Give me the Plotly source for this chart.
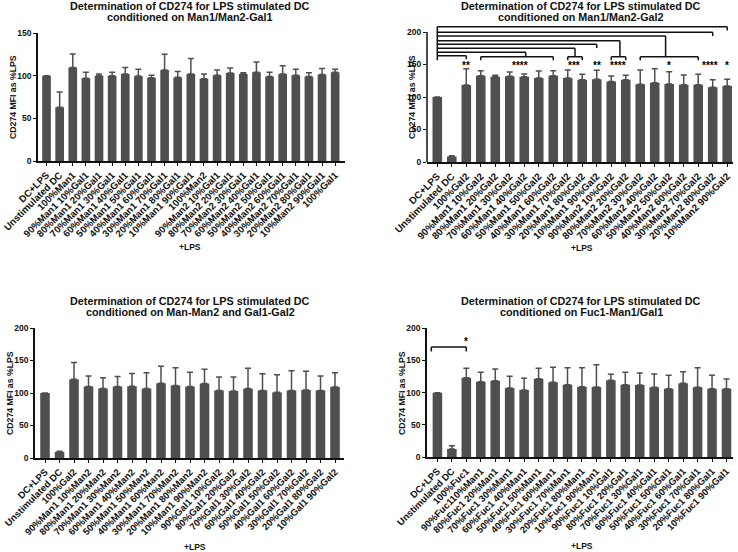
import plotly.graph_objects as go

FONT = "Liberation Sans, Arial, sans-serif"
BAR_COLOR = "#4f4f4f"

# ---------------- data ----------------
y_title = "CD274 MFI as %LPS"
x_title = "+LPS"

titles = [
    ("Determination of CD274 for LPS stimulated DC", "conditioned on Man1/Man2-Gal1"),
    ("Determination of CD274 for LPS stimulated DC", "conditioned on Man1/Man2-Gal2"),
    ("Determination of CD274 for LPS stimulated DC", "conditioned on Man-Man2 and Gal1-Gal2"),
    ("Determination of CD274 for LPS stimulated DC", "conditioned on Fuc1-Man1/Gal1"),
]

cats1 = ["DC+LPS", "Unstimulated DC", "100%Man1",
         "90%Man1 10%Gal1", "80%Man1 20%Gal1", "70%Man1 30%Gal1", "60%Man1 40%Gal1",
         "50%Man1 50%Gal1", "40%Man1 60%Gal1", "30%Man1 70%Gal1", "20%Man1 80%Gal1",
         "10%Man1 90%Gal1", "100%Man2",
         "90%Man2 10%Gal1", "80%Man2 20%Gal1", "70%Man2 30%Gal1", "60%Man2 40%Gal1",
         "50%Man2 50%Gal1", "40%Man2 60%Gal1", "30%Man2 70%Gal1", "20%Man2 80%Gal1",
         "10%Man2 90%Gal1", "100%Gal1"]
vals1 = [100, 63, 109.5, 97, 100, 100, 102, 99.5, 97.5, 106.5, 98, 102,
         96.5, 100.5, 103, 102, 104, 99, 102, 100.5, 99, 101.5, 104]
errs1 = [0, 18, 16, 7, 2, 4, 7.5, 8, 3, 18.5, 7, 18,
         5.5, 6, 6, 1.5, 12, 5, 9.5, 7, 4.5, 7, 3.5]

cats2 = ["DC+LPS", "Unstimulated DC", "100%Gal2",
         "90%Man1 10%Gal2", "80%Man1 20%Gal2", "70%Man1 30%Gal2", "60%Man1 40%Gal2",
         "50%Man1 50%Gal2", "40%Man1 60%Gal2", "30%Man1 70%Gal2", "20%Man1 80%Gal2",
         "10%Man1 90%Gal2",
         "90%Man2 10%Gal2", "80%Man2 20%Gal2", "70%Man2 30%Gal2", "60%Man2 40%Gal2",
         "50%Man2 50%Gal2", "40%Man2 60%Gal2", "30%Man2 70%Gal2", "20%Man2 80%Gal2",
         "10%Man2 90%Gal2"]
vals2 = [100, 8.5, 118.5, 132.8, 131.3, 131.8, 131.3, 129.2, 132.8, 129.2, 126.7,
         127.2, 124, 126.7, 119.5, 122, 120, 119, 119, 114.9, 116.9]
errs2 = [0, 1, 25, 7.7, 2, 6.7, 4, 10.8, 7.7, 12.3, 8.2,
         13.8, 8.2, 6.6, 22, 21.6, 19, 14.8, 15.9, 11.8, 10.3]

cats3 = ["DC+LPS", "Unstimulated DC", "100%Gal2",
         "90%Man1 10%Man2", "80%Man1 20%Man2", "70%Man1 30%Man2", "60%Man1 40%Man2",
         "50%Man1 50%Man2", "40%Man1 60%Man2", "30%Man1 70%Man2", "20%Man1 80%Man2",
         "10%Man1 90%Man2",
         "90%Gal1 10%Gal2", "80%Gal1 20%Gal2", "70%Gal1 30%Gal2", "60%Gal1 40%Gal2",
         "50%Gal1 50%Gal2", "40%Gal1 60%Gal2", "30%Gal1 70%Gal2", "20%Gal1 80%Gal2",
         "10%Gal1 90%Gal2"]
vals3 = [100, 9.5, 121, 110, 107, 110, 110.4, 106.8, 115, 111.5, 110,
         114.6, 104, 103, 106.8, 104, 101, 104, 104.7, 104, 109.4]
errs3 = [0, 1, 26, 16, 16.4, 15.5, 19.6, 24.2, 26, 27.5, 21.8,
         21.9, 20.5, 21.5, 31.2, 25.7, 27, 30.4, 28.6, 22, 21.9]

cats4 = ["DC+LPS", "Unstimulated DC", "100%Fuc1",
         "90%Fuc110%Man1", "80%Fuc1 20%Man1", "70%Fuc1 30%Man1", "60%Fuc1 40%Man1",
         "50%Fuc1 50%Man1", "40%Fuc1 60%Man1", "30%Fuc1 70%Man1", "20%Fuc1 80%Man1",
         "10%Fuc1 90%Man1",
         "90%Fuc1 10%Gal1", "80%Fuc1 20%Gal1", "70%Fuc1 30%Gal1", "60%Fuc1 40%Gal1",
         "50%Fuc1 50%Gal1", "40%Fuc1 60%Gal1", "30%Fuc1 70%Gal1", "20%Fuc1 80%Gal1",
         "10%Fuc1 90%Gal1"]
vals4 = [100, 13, 123, 117, 118.6, 107.2, 104, 121.6, 116, 112.4, 109.3,
         108.8, 119, 112.4, 111.8, 108.2, 106.2, 114.4, 108.2, 106.2, 106.2]
errs4 = [0, 5, 14.6, 14.4, 18, 18.1, 18.2, 16, 23.2, 26.3, 29.4,
         34.5, 9.4, 19, 18.6, 20.7, 20.6, 18.1, 30.5, 20.6, 14.8]

# significance annotations, panel 2 (all versus DC+LPS, index 0)
sig2_labels = ["*", "****", "*", "****", "**", "***", "****", "**"]
sig2_groups = [(20, 20), (19, 19), (14, 18), (12, 13), (11, 11), (9, 10), (3, 8), (2, 2)]
sig2_connect = [20, 19, 15.75, 12.6, 11, 9.5, 6.1, 2]
sig2_levels = [208, 199.5, 193.8, 186.6, 181, 175, 169, 163.5]
sig2_star_x = [20, 18.8, 16, 12.5, 11, 9.4, 5.7, 2]
sig2_star_y = 148
sig2_bracket_y = 162
sig2_tick_y = 156.5
sig2_drop = 5.5

# significance annotation, panel 4
sig4_label = "*"
sig4_x = (-0.42, 2)
sig4_y = 170.5
sig4_tick_y = 163.5
sig4_star_y = 179

# ---------------- layout geometry ----------------
W, H = 738, 552


def px_x(p):
    return p / W


def px_y(p):
    return 1 - p / H


panels = [
    dict(cats=cats1, vals=vals1, errs=errs1, xdom=(38, 345), xr=(-0.65, 22.75),
         ydom=(161, 33), yr=(0, 150), ytick=[0, 50, 100, 150], lab=9.7,
         tpos=(190, 6.5), ytpos=(13, 97), xtpos=(190, 247)),
    dict(cats=cats2, vals=vals2, errs=errs2, xdom=(427, 733), xr=(-0.71, 20.4),
         ydom=(162, 24.2), yr=(0, 212), ytick=[0, 50, 100, 150, 200], lab=9.9,
         tpos=(580.5, 6.5), ytpos=(412, 97), xtpos=(582, 248)),
    dict(cats=cats3, vals=vals3, errs=errs3, xdom=(35, 344), xr=(-0.69, 20.62),
         ydom=(458, 328), yr=(0, 200), ytick=[0, 50, 100, 150, 200], lab=9.5,
         tpos=(190, 300.5), ytpos=(10, 393), xtpos=(195, 547)),
    dict(cats=cats4, vals=vals4, errs=errs4, xdom=(427, 733), xr=(-0.72, 20.45),
         ydom=(457.3, 328), yr=(0, 200), ytick=[0, 50, 100, 150, 200], lab=9.5,
         tpos=(581, 300.5), ytpos=(402, 393), xtpos=(582, 545.5)),
]

fig = go.Figure()
layout = dict(template="none", width=W, height=H, margin=dict(l=0, r=0, t=0, b=0, pad=0),
              paper_bgcolor="white", plot_bgcolor="white", showlegend=False,
              bargap=0.34, annotations=[], shapes=[])

tickfont_y = dict(family=FONT, size=8.5, color="#111", weight="bold")

for i, p in enumerate(panels):
    n = "" if i == 0 else str(i + 1)
    xa, ya = "x" + n, "y" + n
    fig.add_trace(go.Bar(
        x=list(range(len(p["cats"]))), y=p["vals"], xaxis=xa, yaxis=ya,
        marker=dict(color=BAR_COLOR, line=dict(width=0)),
        error_y=dict(type="data", symmetric=False, array=p["errs"],
                     arrayminus=[0] * len(p["errs"]), color=BAR_COLOR,
                     thickness=1.5, width=3),
    ))
    layout["xaxis" + n] = dict(
        domain=[px_x(p["xdom"][0]), px_x(p["xdom"][1])], range=list(p["xr"]),
        anchor=ya, tickvals=list(range(len(p["cats"]))), ticktext=p["cats"],
        tickangle=-45, showline=True, linecolor="#111", linewidth=1.5,
        ticks="outside", ticklen=3, tickwidth=1.2, tickcolor="#111", automargin=False,
        showgrid=False, zeroline=False, ticklabeloverflow="allow",
        tickfont=dict(family=FONT, size=p["lab"], color="#111", weight="bold"))
    layout["yaxis" + n] = dict(
        domain=[px_y(p["ydom"][0]), px_y(p["ydom"][1])], range=list(p["yr"]),
        anchor=xa, tickvals=p["ytick"], showline=(i != 1), linecolor="#111",
        linewidth=1.5, ticks="outside", ticklen=3, tickwidth=1.2, tickcolor="#111",
        automargin=False, showgrid=False, zeroline=False, tickfont=tickfont_y)
    t1, t2 = titles[i]
    tx, ty = p["tpos"]
    for k, line in enumerate((t1, t2)):
        layout["annotations"].append(dict(
            text="<b>%s</b>" % line, x=px_x(tx), y=px_y(ty + 11 * k),
            xref="paper", yref="paper", showarrow=False, xanchor="center",
            yanchor="middle", borderpad=0, font=dict(family=FONT, size=10.8, color="#111")))
    layout["annotations"] += [
        dict(text="<b>%s</b>" % y_title, x=px_x(p["ytpos"][0]), y=px_y(p["ytpos"][1]),
             xref="paper", yref="paper", showarrow=False, textangle=-90,
             xanchor="center", yanchor="middle", font=dict(family=FONT, size=8.7, color="#111")),
        dict(text="<b>%s</b>" % x_title, x=px_x(p["xtpos"][0]), y=px_y(p["xtpos"][1]),
             xref="paper", yref="paper", showarrow=False, xanchor="center", yanchor="middle",
             borderpad=0, font=dict(family=FONT, size=8.5, color="#111")),
    ]

# panel 2: y-axis line only up to 200 (range extended for brackets)
layout["shapes"].append(dict(type="line", xref="x2 domain", yref="y2 domain",
                             x0=0, x1=0, y0=0, y1=200 / panels[1]["yr"][1],
                             line=dict(color="#111", width=1.5)))

LINE = dict(color="#111", width=1.5)


def seg(xref, yref, x0, y0, x1, y1):
    layout["shapes"].append(dict(type="line", xref=xref, yref=yref,
                                 x0=x0, y0=y0, x1=x1, y1=y1, line=LINE))


# panel 2 brackets
seg("x2", "y2", 0, sig2_levels[0], 0, sig2_tick_y)
for lab, (g0, g1), cx, lev, sx in zip(sig2_labels, sig2_groups, sig2_connect,
                                       sig2_levels, sig2_star_x):
    seg("x2", "y2", 0, lev, cx, lev)
    if g0 == g1:
        seg("x2", "y2", cx, lev, cx, lev - sig2_drop)
    else:
        seg("x2", "y2", cx, lev, cx, sig2_bracket_y)
        seg("x2", "y2", g0, sig2_bracket_y, g1, sig2_bracket_y)
        seg("x2", "y2", g0, sig2_bracket_y, g0, sig2_tick_y)
        seg("x2", "y2", g1, sig2_bracket_y, g1, sig2_tick_y)
    layout["annotations"].append(dict(
        text="<b>%s</b>" % lab, x=sx, y=sig2_star_y, xref="x2", yref="y2",
        showarrow=False, xanchor="center", yanchor="middle",
        font=dict(family=FONT, size=10, color="#000")))

# panel 4 bracket
seg("x4", "y4", sig4_x[0], sig4_y, sig4_x[1], sig4_y)
seg("x4", "y4", sig4_x[0], sig4_y, sig4_x[0], sig4_tick_y)
seg("x4", "y4", sig4_x[1], sig4_y, sig4_x[1], sig4_tick_y)
layout["annotations"].append(dict(
    text="<b>%s</b>" % sig4_label, x=sig4_x[1], y=sig4_star_y, xref="x4", yref="y4",
    showarrow=False, xanchor="center", yanchor="middle",
    font=dict(family=FONT, size=10, color="#000")))

fig.update_layout(**layout)
fig.write_html("out.html", config={"displayModeBar": False},
               post_script="document.body.style.margin='0';document.body.style.overflow='hidden';")
